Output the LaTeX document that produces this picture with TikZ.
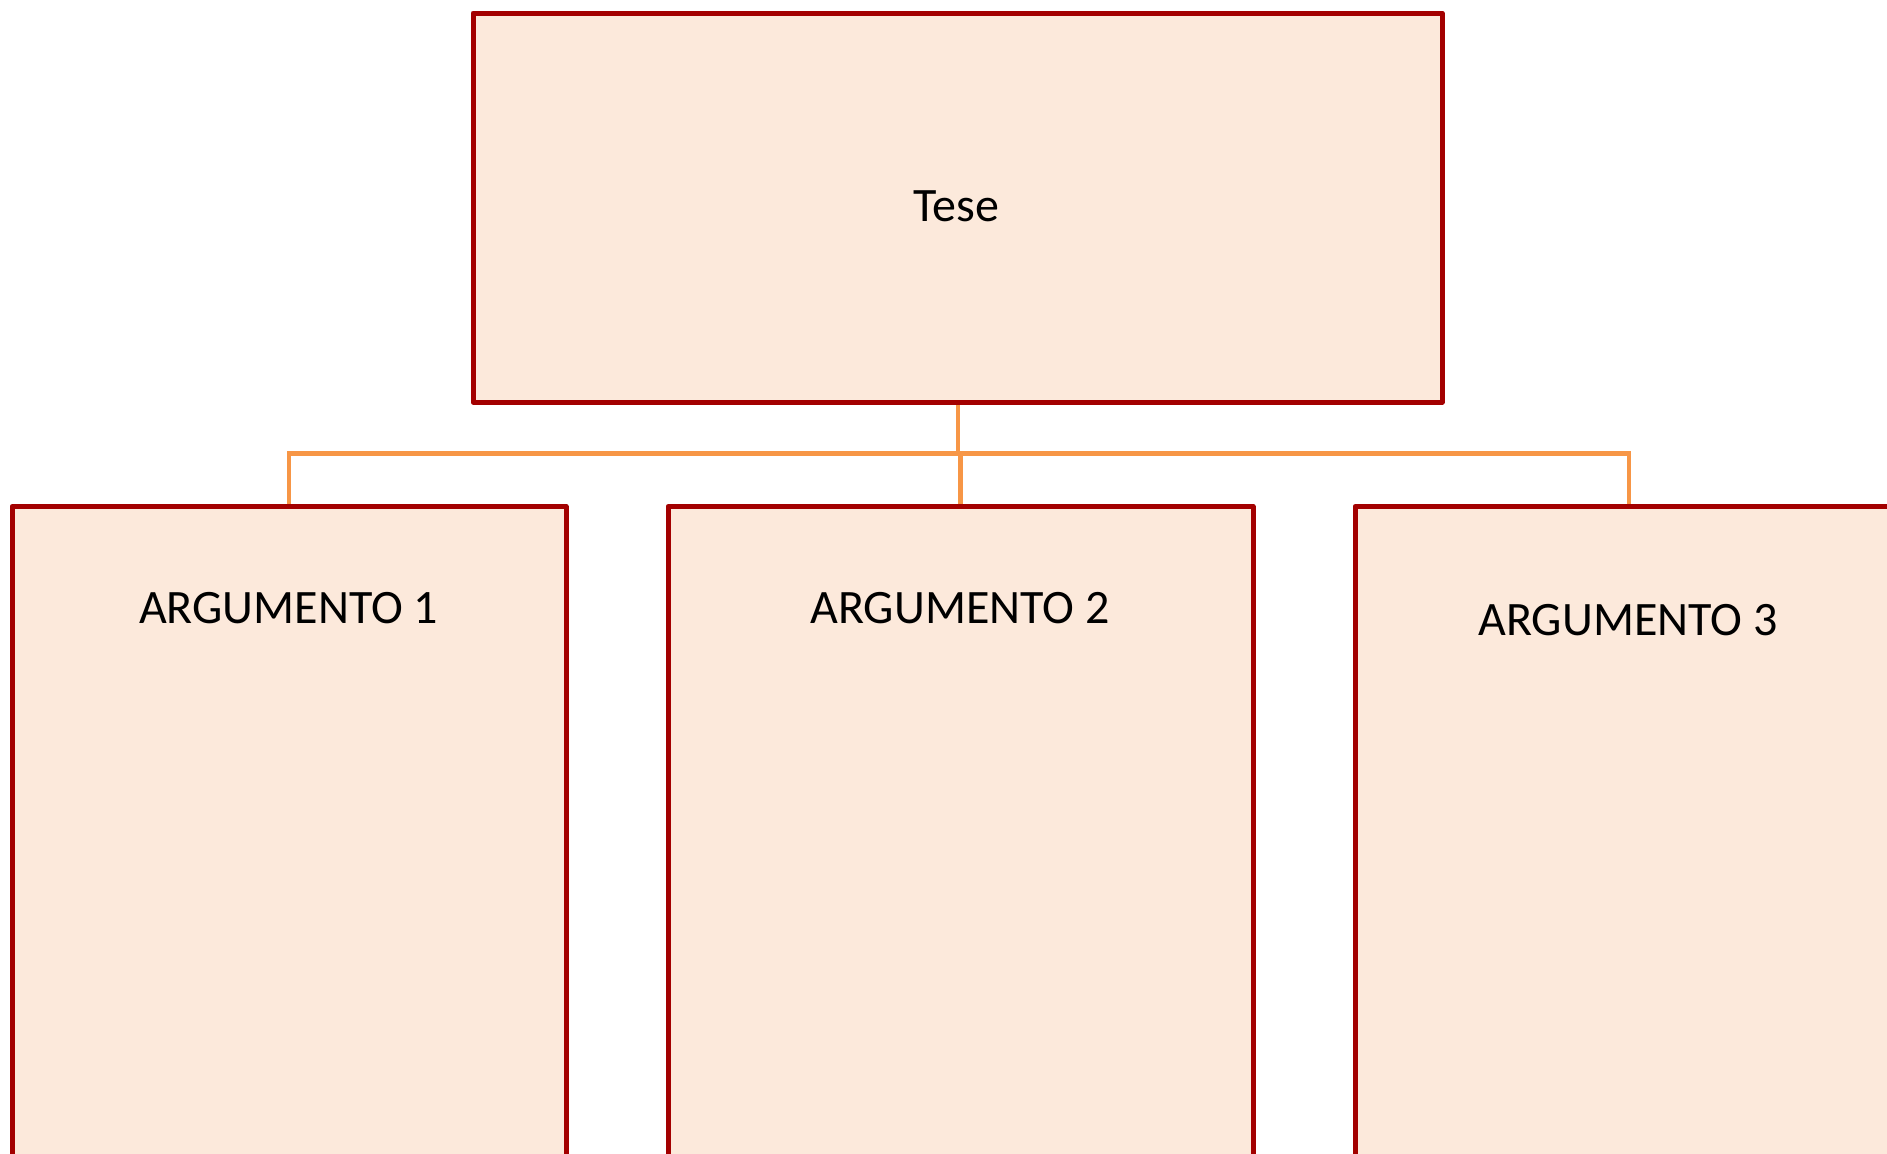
\documentclass[tikz,border=0pt]{standalone}
\usepackage{fontspec}
\setmainfont{Carlito}
\usetikzlibrary{backgrounds}
\definecolor{boxfill}{HTML}{FCE9DB}
\definecolor{boxline}{HTML}{A30000}
\definecolor{connline}{HTML}{F79646}
\tikzset{
  box/.style={draw=boxline, fill=boxfill, line width=2.5pt, line join=round,
    rectangle, inner sep=0pt},
  lbl/.style={inner sep=0pt, anchor=base, font=\fontsize{24pt}{28pt}\selectfont, text=black},
  conn/.style={draw=connline, line width=2.3pt}
}
\begin{document}
\begin{tikzpicture}[x=0.5pt, y=-0.5pt]
\useasboundingbox (0,0) rectangle (1887,1153);
\clip (0,0) rectangle (1887,1153);
% boxes
\node[box, minimum width=484.5pt, minimum height=194.5pt] (tese) at (957.5,207.5) {};
\node[box, anchor=north, minimum width=277pt, minimum height=360pt] (a1) at (289,504) {};
\node[box, anchor=north, minimum width=292.5pt, minimum height=360pt] (a2) at (960.5,504) {};
\node[box, anchor=north, minimum width=274pt, minimum height=360pt] (a3) at (1629,504) {};
% labels
\node[lbl] (tt) at (956.5,221) {Tese};
\node[lbl] (t1) at (288.5,623) {ARGUMENTO 1};
\node[lbl] (t2) at (960,623) {ARGUMENTO 2};
\node[lbl] (t3) at (1628,635) {ARGUMENTO 3};
% connectors
\coordinate (bus) at (958,453.5);
\begin{pgfonlayer}{background}
\fill[white] (0,0) rectangle (1887,1153);
\draw[conn] (tese.south -| bus) -- (bus);
\draw[conn] (a1.north) -- (a1.north |- bus) -- (a3.north |- bus) -- (a3.north);
\draw[conn] (a2.north) -- (a2.north |- bus);
\end{pgfonlayer}
\end{tikzpicture}
\end{document}
